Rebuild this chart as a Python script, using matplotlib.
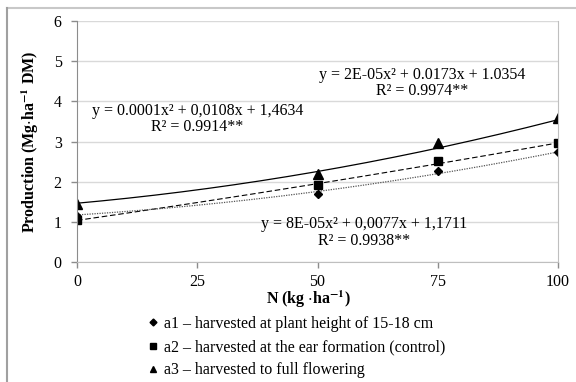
import matplotlib
matplotlib.use("Agg")
import matplotlib.pyplot as plt
from matplotlib.lines import Line2D
import numpy as np

plt.rcParams["font.family"] = ["Liberation Serif", "DejaVu Serif"]
plt.rcParams["mathtext.fontset"] = "stix"

# data
doses = [0, 50, 75, 100]
a1 = [1.15, 1.69, 2.26, 2.73]
a2 = [1.05, 1.92, 2.51, 2.96]
a3 = [1.44, 2.19, 2.96, 3.58]

# trend line coefficients as printed on the chart (x^2, x, const)
coef_a1 = [8e-05, 0.0077, 1.1711]
coef_a2 = [2e-05, 0.0173, 1.0354]
coef_a3 = [0.0001, 0.0108, 1.4634]

labels = ["a1 \u2013 harvested at plant height of 15-18 cm",
          "a2 \u2013 harvested at the ear formation (control)",
          "a3 \u2013 harvested to full flowering"]

fig = plt.figure(figsize=(5.76, 3.82), dpi=100)
ax = fig.add_axes([77 / 576, 1 - 262 / 382, 481 / 576, 241 / 382])

xs = np.linspace(0, 100, 200)
ax.plot(xs, np.polyval(coef_a3, xs), color="black", lw=0.9)
ax.plot(xs, np.polyval(coef_a2, xs), color="black", lw=0.8,
        dashes=(5, 2.5))
ax.plot(xs, np.polyval(coef_a1, xs), color="#555555", lw=0.9,
        dashes=(1, 1))

ax.plot(doses, a1, "D", color="black", ms=4.5, ls="none")
ax.plot(doses, a2, "s", color="black", ms=6, ls="none")
ax.plot(doses, a3, "^", color="black", ms=6.5, ls="none")

ax.set_xlim(0, 100)
ax.set_ylim(0, 6)
ax.set_xticks([0, 25, 50, 75, 100])
ax.set_yticks(range(0, 7))
ax.yaxis.grid(True, color="#d9d9d9", lw=1)
ax.set_axisbelow(True)
ax.spines["top"].set_visible(False)
ax.spines["left"].set_color("#8c8c8c")
ax.spines["bottom"].set_color("#bfbfbf")
ax.spines["right"].set_color("#bfbfbf")
ax.tick_params(axis="both", length=4, color="#8c8c8c", labelsize=11.5,
               width=1)
ax.tick_params(axis="x", pad=5)
ax.tick_params(axis="y", pad=7)

ax.set_xlabel(r"N (kg $\cdot$ha$^{\mathbf{-1}}$)", fontsize=11.5,
              fontweight="bold")
ax.xaxis.set_label_coords((308 - 77) / 481, (262 - 289) / 241)
ax.set_ylabel(r"Production (Mg$\cdot$ha$^{\mathbf{-1}}$ DM)", fontsize=11.5,
              fontweight="bold", labelpad=9)

fs = 11.5
ax.text(25, 3.56, "y = 0.0001x\u00b2 + 0,0108x + 1,4634\nR\u00b2 = 0.9914**",
        ha="center", va="center", fontsize=fs, linespacing=1.05)
ax.text(71.7, 4.46, "y = 2E-05x\u00b2 + 0.0173x + 1.0354\nR\u00b2 = 0.9974**",
        ha="center", va="center", fontsize=fs, linespacing=1.05)
ax.text(59.7, 0.73, "y = 8E-05x\u00b2 + 0,0077x + 1,1711\nR\u00b2 = 0.9938**",
        ha="center", va="center", fontsize=fs, linespacing=1.05)

handles = [Line2D([], [], marker="D", color="black", ls="none", ms=3.5),
           Line2D([], [], marker="s", color="black", ls="none", ms=5),
           Line2D([], [], marker="^", color="black", ls="none", ms=5)]
fig.legend(handles, labels, loc="upper left",
           bbox_to_anchor=(148 / 576, 1 - 316 / 382), frameon=False,
           fontsize=11.5, handlelength=0.6, handletextpad=0.4,
           labelspacing=0.45, borderpad=0, borderaxespad=0)

# outer frame of the chart
fig.add_artist(Line2D([7 / 576, 575 / 576], [1 - 8 / 382, 1 - 8 / 382],
                      color="#c8c8c8", lw=1.5))
fig.add_artist(Line2D([7 / 576, 7 / 576], [0, 1 - 8 / 382],
                      color="#a0a0a0", lw=1.5))

fig.savefig("out.png", dpi=100)
